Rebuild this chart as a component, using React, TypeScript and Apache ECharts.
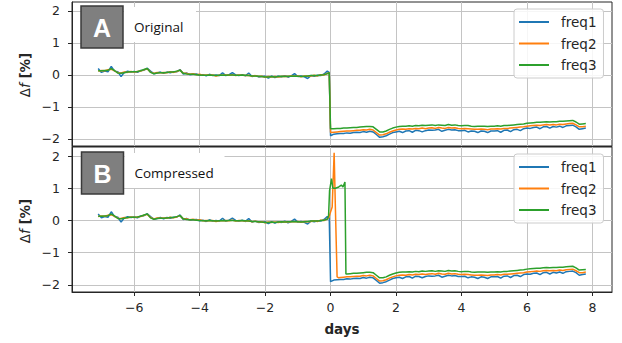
import React, { useEffect, useRef } from "react";
import * as echarts from "echarts";

// ---------- data ----------
const PRE_START = -7.1; // first sample day
const POST_START = 0.0;
const STEP = 0.1;

// pre-jump samples, days -7.1 .. -0.1 (step 0.1), then one edge sample
const pre1 = [
  0.20, 0.08, 0.12, 0.10, 0.27, 0.12, 0.10, -0.05, 0.08, 0.12,
  0.09, 0.11, 0.08, 0.14, 0.15, 0.21, 0.12, 0.04, 0.06, 0.09,
  0.05, 0.09, 0.07, 0.10, 0.10, 0.17, 0.03, 0.06, 0.01, 0.02,
  0.03, -0.01, 0.01, -0.03, 0.02, -0.02, 0.00, -0.02, 0.07, -0.02,
  0.01, 0.07, 0.00, -0.02, 0.01, -0.03, 0.06, -0.05, -0.02, -0.06,
  -0.05, -0.04, -0.10, -0.04, -0.08, -0.04, -0.06, -0.02, -0.07, -0.03,
  0.04, -0.05, -0.03, -0.06, -0.11, -0.02, -0.04, -0.01, -0.02, 0.03,
  0.12,
];
const pre2 = [
  0.12, 0.14, 0.13, 0.16, 0.18, 0.13, 0.07, 0.06, 0.09, 0.08,
  0.11, 0.09, 0.11, 0.12, 0.16, 0.19, 0.09, 0.05, 0.08, 0.07,
  0.08, 0.07, 0.10, 0.08, 0.11, 0.15, 0.05, 0.05, 0.02, 0.04,
  0.01, 0.02, -0.01, 0.00, -0.01, 0.00, -0.03, -0.01, -0.01, 0.00,
  -0.01, 0.01, -0.02, 0.00, -0.01, -0.02, -0.01, -0.04, -0.02, -0.05,
  -0.04, -0.07, -0.05, -0.06, -0.05, -0.06, -0.05, -0.04, -0.05, -0.03,
  -0.04, -0.03, -0.06, -0.03, -0.04, -0.03, -0.01, -0.03, 0.01, 0.00,
  0.05,
];
const pre3 = [
  0.13, 0.13, 0.14, 0.15, 0.20, 0.14, 0.06, 0.05, 0.07, 0.09,
  0.10, 0.10, 0.11, 0.13, 0.17, 0.20, 0.08, 0.04, 0.06, 0.07,
  0.07, 0.08, 0.09, 0.09, 0.12, 0.15, 0.05, 0.03, 0.02, 0.02,
  0.01, 0.00, -0.01, -0.01, 0.00, -0.01, -0.02, -0.01, 0.00, -0.01,
  0.00, 0.00, -0.01, -0.01, 0.00, -0.01, -0.02, -0.03, -0.03, -0.04,
  -0.05, -0.06, -0.06, -0.05, -0.06, -0.05, -0.04, -0.05, -0.04, -0.04,
  -0.03, -0.04, -0.05, -0.04, -0.03, -0.02, -0.02, -0.02, 0.00, 0.01,
  0.04,
];
const edgeDay = -0.04;
const edge1 = 0.08;
const edge2 = 0.07;
const edge3 = 0.07;

// post-jump samples, days 0.0 .. 7.8 (step 0.1)
const post1 = [
  -1.90, -1.85, -1.84, -1.83, -1.83, -1.81, -1.82, -1.80, -1.79, -1.80,
  -1.77, -1.79, -1.76, -1.78, -1.86, -1.95, -1.93, -1.90, -1.85, -1.80,
  -1.78, -1.76, -1.80, -1.75, -1.74, -1.79, -1.73, -1.74, -1.78, -1.74,
  -1.72, -1.73, -1.72, -1.70, -1.76, -1.73, -1.70, -1.72, -1.71, -1.74,
  -1.74, -1.73, -1.78, -1.75, -1.76, -1.80, -1.75, -1.76, -1.80, -1.75,
  -1.75, -1.74, -1.79, -1.73, -1.72, -1.77, -1.71, -1.70, -1.74, -1.68,
  -1.66, -1.67, -1.64, -1.63, -1.68, -1.62, -1.61, -1.66, -1.61, -1.63,
  -1.60, -1.64, -1.59, -1.58, -1.57, -1.62, -1.70, -1.68, -1.66,
];
const post2 = [
  -1.80, -1.79, -1.78, -1.77, -1.76, -1.75, -1.75, -1.74, -1.73, -1.73,
  -1.71, -1.72, -1.70, -1.72, -1.80, -1.88, -1.87, -1.84, -1.79, -1.75,
  -1.72, -1.70, -1.69, -1.70, -1.68, -1.69, -1.67, -1.68, -1.66, -1.68,
  -1.66, -1.65, -1.67, -1.64, -1.66, -1.67, -1.64, -1.66, -1.65, -1.67,
  -1.68, -1.67, -1.68, -1.69, -1.70, -1.70, -1.69, -1.70, -1.71, -1.69,
  -1.69, -1.68, -1.69, -1.67, -1.67, -1.66, -1.65, -1.64, -1.63, -1.62,
  -1.60, -1.59, -1.58, -1.57, -1.58, -1.56, -1.55, -1.56, -1.55, -1.56,
  -1.54, -1.55, -1.53, -1.52, -1.51, -1.56, -1.62, -1.62, -1.60,
];
const post3 = [
  -1.68, -1.68, -1.67, -1.67, -1.66, -1.66, -1.65, -1.64, -1.64, -1.63,
  -1.62, -1.61, -1.61, -1.62, -1.70, -1.78, -1.78, -1.75, -1.70, -1.66,
  -1.63, -1.61, -1.60, -1.60, -1.59, -1.60, -1.58, -1.59, -1.57, -1.58,
  -1.57, -1.56, -1.58, -1.56, -1.57, -1.58, -1.55, -1.57, -1.56, -1.58,
  -1.59, -1.58, -1.58, -1.60, -1.61, -1.60, -1.60, -1.60, -1.61, -1.60,
  -1.60, -1.59, -1.60, -1.58, -1.58, -1.57, -1.56, -1.55, -1.54, -1.53,
  -1.51, -1.50, -1.49, -1.48, -1.48, -1.47, -1.46, -1.47, -1.46, -1.46,
  -1.45, -1.45, -1.44, -1.43, -1.42, -1.47, -1.54, -1.53, -1.52,
];

// panel B: transient around day 0 (compressed)
const spike2Days = [-0.05, 0.0, 0.05, 0.11, 0.15, 0.2, 0.25];
const spike2Vals = [0.1, 0.26, 0.42, 2.1, 0.3, -1.75, -1.78];
const spike2ResumeDay = 0.3;
const spike3Days = [-0.06, -0.03, 0.03, 0.07, 0.15, 0.25, 0.33, 0.38, 0.44, 0.47];
const spike3Vals = [0.15, 0.93, 1.3, 1.0, 1.0, 1.04, 1.1, 1.04, 1.19, -1.66];
const spike3ResumeDay = 0.5;

const seriesNames = ["freq1", "freq2", "freq3"];
const xTicks = [-6, -4, -2, 0, 2, 4, 6, 8];
const yTicks = [-2, -1, 0, 1, 2];

// ---------- helpers ----------
const dayAt = (start: number, i: number) => Math.round((start + i * STEP) * 100) / 100;
const pairs = (start: number, vals: number[]) => vals.map((v, i) => [dayAt(start, i), v]);
const preWithEdge = (vals: number[], edge: number) => [...pairs(PRE_START, vals), [edgeDay, edge]];

const A1 = [...preWithEdge(pre1, edge1), ...pairs(POST_START, post1)];
const A2 = [...preWithEdge(pre2, edge2), ...pairs(POST_START, post2)];
const A3 = [...preWithEdge(pre3, edge3), ...pairs(POST_START, post3)];
const B1 = A1;
const B2 = [
  ...pairs(PRE_START, pre2),
  ...spike2Days.map((d, i) => [d, spike2Vals[i]]),
  ...pairs(POST_START, post2).filter((p) => p[0] >= spike2ResumeDay),
];
const B3 = [
  ...pairs(PRE_START, pre3),
  ...spike3Days.map((d, i) => [d, spike3Vals[i]]),
  ...pairs(POST_START, post3).filter((p) => p[0] >= spike3ResumeDay),
];

const COLORS = ["#1f77b4", "#ff7f0e", "#2ca02c"];
const TXT = "#262626";
const GRIDC = "#c4c4c4";
const Y_MIN = -2.22;
const Y_MAX = 2.28;
const X_MIN = -7.9;
const X_MAX = 8.6;

const fmt = (v: number) => (v < 0 ? "\u2212" + Math.abs(v) : String(v));

export default function App() {
  const ref = useRef<HTMLDivElement>(null);

  useEffect(() => {
    if (!ref.current) return;
    const chart = echarts.init(ref.current, undefined, { renderer: "svg" });

    const xAxis = (gridIndex: number, labels: boolean) => ({
      type: "value",
      gridIndex,
      min: X_MIN,
      max: X_MAX,
      axisLine: { show: true, onZero: false, lineStyle: { color: TXT, width: 1 } },
      axisTick: {
        show: labels,
        length: 4,
        customValues: xTicks,
        lineStyle: { color: TXT, width: 1 },
      },
      axisLabel: {
        show: labels,
        customValues: xTicks,
        formatter: fmt,
        margin: 9,
        fontFamily: "DejaVu Sans",
        fontSize: 12.5,
        color: TXT,
      },
      splitLine: { show: true, lineStyle: { color: GRIDC, width: 1 } },
    });
    const yAxis = (gridIndex: number) => ({
      type: "value",
      gridIndex,
      min: Y_MIN,
      max: Y_MAX,
      axisLine: { show: true, onZero: false, lineStyle: { color: TXT, width: 1 } },
      axisTick: {
        show: true,
        length: 4,
        customValues: yTicks,
        lineStyle: { color: TXT, width: 1 },
      },
      axisLabel: {
        customValues: yTicks,
        formatter: fmt,
        margin: 12,
        fontFamily: "DejaVu Sans",
        fontSize: 12.5,
        color: TXT,
      },
      splitLine: { show: true, lineStyle: { color: GRIDC, width: 1 } },
    });

    const mk = (name: string, data: number[][], idx: number, color: string) => ({
      name,
      type: "line",
      xAxisIndex: idx,
      yAxisIndex: idx,
      data,
      showSymbol: false,
      symbol: "none",
      lineStyle: { color, width: 1.5 },
      itemStyle: { color },
      z: 3,
    });

    const legend = (top: number) => ({
      orient: "vertical",
      left: 514,
      top,
      icon: "rect",
      itemWidth: 30,
      itemHeight: 2,
      itemGap: 5.5,
      padding: [5, 7, 5, 5],
      backgroundColor: "rgba(255,255,255,0.85)",
      borderColor: "#cccccc",
      borderWidth: 1,
      borderRadius: 3,
      selectedMode: false,
      textStyle: {
        fontFamily: "DejaVu Sans",
        fontSize: 13.5,
        color: TXT,
        lineHeight: 16,
        padding: [0, 0, 0, 7],
      },
      data: seriesNames,
    });

    const panelLabel = (letter: string, text: string, bx: number, by: number, wbw: number) => [
      {
        type: "rect",
        z: 100,
        shape: { x: bx + 43, y: by + 1, width: wbw, height: 35 },
        style: { fill: "#ffffff" },
      },
      {
        type: "rect",
        z: 101,
        shape: { x: bx, y: by, width: 42, height: 42 },
        style: { fill: "#7f7f7f", stroke: "#3a3a3a", lineWidth: 1.5 },
      },
      {
        type: "text",
        z: 102,
        x: bx + 21,
        y: by + 22,
        style: {
          text: letter,
          fill: "#ffffff",
          font: "bold 25px 'Liberation Sans', sans-serif",
          align: "center",
          verticalAlign: "middle",
        },
      },
      {
        type: "text",
        z: 102,
        x: bx + 53,
        y: by + 21,
        style: {
          text: text,
          fill: "#111111",
          font: "13.5px 'Open Sans', sans-serif",
          align: "left",
          verticalAlign: "middle",
        },
      },
    ];

    const yLabel = (cy: number) => ({
      type: "text",
      z: 102,
      x: 25,
      y: cy,
      rotation: Math.PI / 2,
      style: {
        text: "{d|\u0394}{f|f}{b| [%]}",
        align: "center",
        verticalAlign: "middle",
        rich: {
          d: { fontFamily: "DejaVu Sans", fontSize: 13.5, fill: TXT },
          f: { fontFamily: "DejaVu Sans", fontSize: 13.5, fontStyle: "italic", fill: TXT },
          b: { fontFamily: "DejaVu Sans", fontSize: 13.5, fontWeight: "bold", fill: TXT },
        },
      },
    });

    chart.setOption({
      animation: false,
      backgroundColor: "#ffffff",
      grid: [
        { left: 72, top: 2, right: 10, height: 144, show: true, borderColor: TXT, borderWidth: 1, backgroundColor: "transparent" },
        { left: 72, top: 147, right: 10, height: 145, show: true, borderColor: TXT, borderWidth: 1, backgroundColor: "transparent" },
      ],
      xAxis: [xAxis(0, false), xAxis(1, true)],
      yAxis: [yAxis(0), yAxis(1)],
      legend: [legend(9), legend(154)],
      series: [
        mk(seriesNames[0], A1, 0, COLORS[0]),
        mk(seriesNames[1], A2, 0, COLORS[1]),
        mk(seriesNames[2], A3, 0, COLORS[2]),
        mk(seriesNames[0], B1, 1, COLORS[0]),
        mk(seriesNames[1], B2, 1, COLORS[1]),
        mk(seriesNames[2], B3, 1, COLORS[2]),
      ],
      graphic: [
        ...panelLabel("A", "Original", 81, 6, 72),
        ...panelLabel("B", "Compressed", 81.5, 152, 100),
        yLabel(75),
        yLabel(221),
        {
          type: "text",
          z: 102,
          x: 342,
          y: 329,
          style: {
            text: "days",
            font: "bold 13.5px 'DejaVu Sans', sans-serif",
            fill: TXT,
            align: "center",
            verticalAlign: "middle",
          },
        },
      ],
    });

    return () => chart.dispose();
  }, []);

  return (
    <div
      ref={ref}
      style={{ position: "absolute", left: 0, top: 0, width: 622, height: 343, background: "#fff" }}
    />
  );
}
